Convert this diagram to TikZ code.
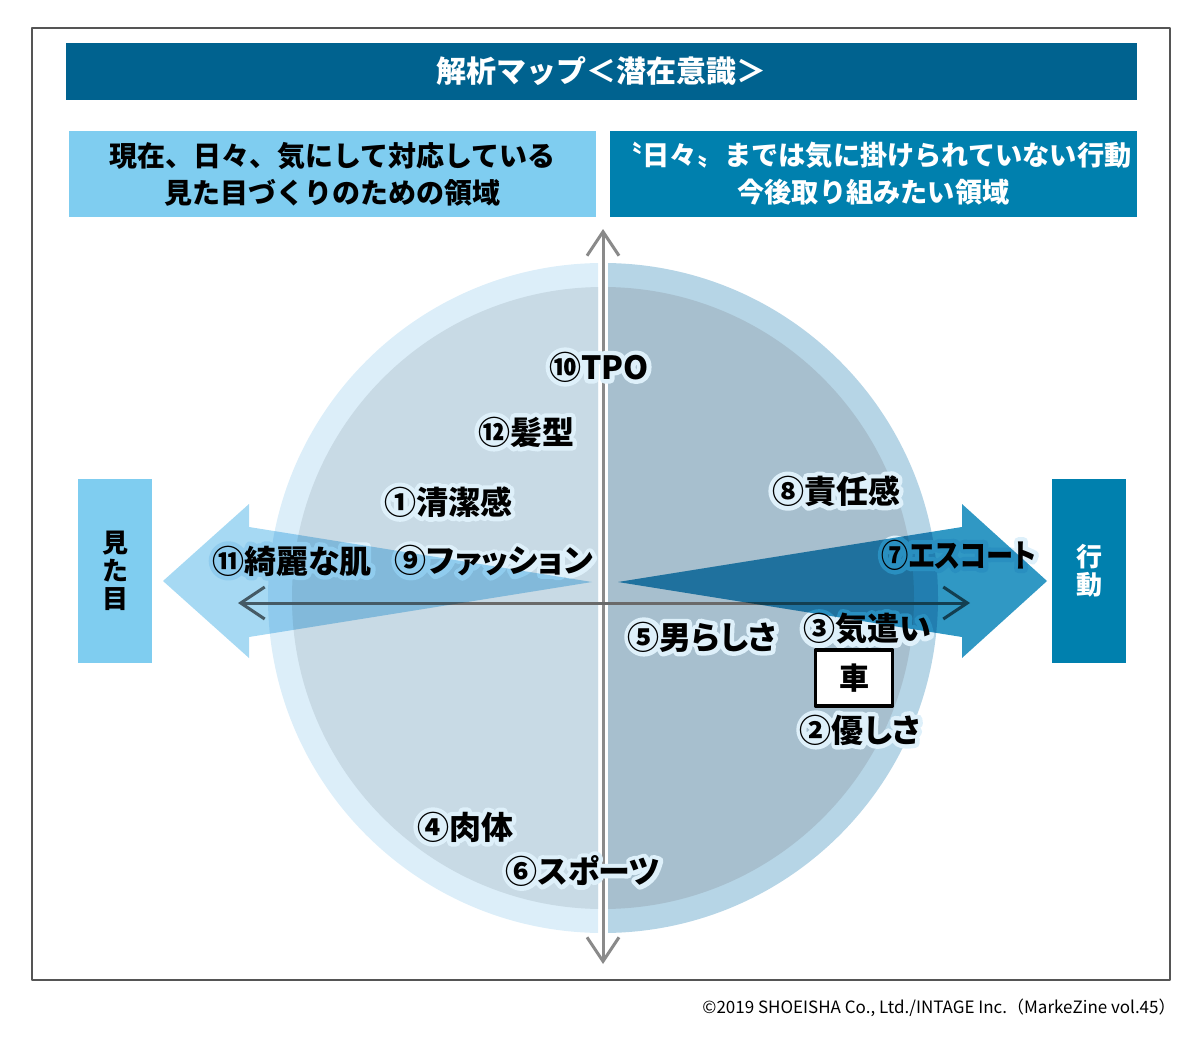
\documentclass[tikz,border=0pt]{standalone}
\usepackage{fontspec}
\setmainfont{Noto Sans CJK JP}
\newfontfamily\labelfont{Noto Sans CJK JP}[RawFeature=+palt]
\usepackage{tikz}
\usetikzlibrary{arrows.meta,positioning}
\definecolor{frame}{HTML}{555555}
\definecolor{titlebar}{HTML}{00628F}
\definecolor{lightbox}{HTML}{7FCDF0}
\definecolor{darkbox}{HTML}{0080AE}
\definecolor{ringleft}{HTML}{DCEEF9}
\definecolor{coreleft}{HTML}{C8DAE5}
\definecolor{ringright}{HTML}{B6D5E6}
\definecolor{coreright}{HTML}{A7BFCE}
\definecolor{arrowleft}{HTML}{A6D9F3}
\definecolor{arrowright}{HTML}{3098C4}
\definecolor{axisv}{HTML}{8A8A8A}
\definecolor{axish}{HTML}{6A6A6A}
\tikzset{
  MapItem/.style={font=\labelfont\bfseries\fontsize{16}{16}\selectfont, inner sep=0pt},
  NarrowItem/.style={font=\labelfont\bfseries\fontsize{16}{16}\selectfont
    \addfontfeature{FakeStretch=0.85}},
  BandBox/.style={inner sep=0pt, minimum width=263.5pt, minimum height=43pt,
    align=center, font=\bfseries\fontsize{14}{18.5}\selectfont},
  SideBox/.style={inner sep=0pt, minimum width=37pt, minimum height=92pt,
    align=center, font=\bfseries\fontsize{13}{14}\selectfont},
  AxisLine/.style={line width=1.5pt,
    {Straight Barb[length=12pt,width=16pt]}-{Straight Barb[length=12pt,width=16pt]}}
}
% stroked copy underneath gives the pale outline round each item
\newcommand{\HaloText}[1]{%
  \leavevmode\rlap{\special{pdf:literal direct 1 Tr 4.4 w 1 j 0.870 0.940 0.982 RG}#1%
  \special{pdf:literal direct 0 Tr}}#1}
\newcommand{\MapLabel}[4][]{%
  % #1 = extra node options, #2 = node name, #3 = centre, #4 = label text
  \node[MapItem,#1] (#2) at (#3) {\HaloText{#4}};
}

\begin{document}
\begin{tikzpicture}[x=0.5pt, y=-0.5pt, line join=round]
  \useasboundingbox (0,0) rectangle (1200,1038);
  \draw[frame, line width=0.6pt] (32,28) rectangle (1170,980);

  % headings
  \node[fill=titlebar, text=white, inner sep=0pt, minimum width=535.5pt,
    minimum height=28.5pt, font=\bfseries\fontsize{15}{15}\selectfont]
    (title) at (601.5,71.5) {解析マップ＜潜在意識＞};
  \node[BandBox, fill=lightbox, text=black] (nowarea) at (332.5,174)
    {現在、日々、気にして対応している\\見た目づくりのための領域};
  \node[BandBox, fill=darkbox, text=white, font=\bfseries\fontsize{13.6}{18.5}\selectfont]
    (futurearea) at (873.5,174)
    {〝日々〟までは気に掛けられていない行動\\今後取り組みたい領域};
  \node[SideBox, fill=lightbox, text=black] (looks) at (115,571) {見\\た\\目};
  \node[SideBox, fill=darkbox, text=white] (action) at (1089,571) {行\\動};

  % the two half discs
  \begin{scope}
    \clip (0,0) rectangle (598,1038);
    \fill[ringleft] (603,598) circle[radius=335];
    \fill[coreleft] (603,598) circle[radius=311];
  \end{scope}
  \begin{scope}
    \clip (608,0) rectangle (1200,1038);
    \fill[ringright] (603,598) circle[radius=335];
    \fill[coreright] (603,598) circle[radius=311];
  \end{scope}

  % axes
  \coordinate (axisTop) at (603,229);
  \coordinate (axisBottom) at (603,964);
  \coordinate (axisLeft) at (238,603);
  \coordinate (axisRight) at (970,603);
  \draw[axisv, AxisLine] (axisBottom) -- (axisTop);
  \draw[axish, AxisLine] (axisLeft) -- (axisRight);

  % items
  \MapLabel{tpo}{599,367}{⑩TPO}
  \MapLabel{hair}{526,432}{⑫髪型}
  \MapLabel{clean}{448,502}{①清潔感}
  \MapLabel{duty}{836,491}{⑧責任感}
  \MapLabel{skin}{292,561}{⑪綺麗な肌}
  \MapLabel{fashion}{494,561}{⑨ファッション}
  \MapLabel[NarrowItem]{escort}{959,555}{⑦エスコート}
  \MapLabel{manly}{702,637}{⑤男らしさ}
  \MapLabel{care}{867,629}{③気遣い}
  \MapLabel{kind}{860,730}{②優しさ}
  \MapLabel{body}{465,827}{④肉体}
  \MapLabel{sports}{583,871}{⑥スポーツ}
  \node[draw=black, line width=1.6pt, fill=white, inner sep=0pt,
    minimum width=38.5pt, minimum height=28pt,
    font=\bfseries\fontsize{15}{15}\selectfont] (car) at (854,678) {車};

  % broad arrows
  \fill[arrowleft, blend mode=multiply]
    (163,581) -- (249,504) -- (249,527) -- (592,582)
    -- (249,637) -- (249,658) -- cycle;
  \fill[arrowright, blend mode=multiply]
    (1047,581) -- (962,504) -- (962,527) -- (618,582)
    -- (962,637) -- (962,658) -- cycle;

  \node[anchor=east, inner sep=0pt, font=\fontsize{8.5}{10}\selectfont]
    (credit) at (1176,1008)
    {©2019 SHOEISHA Co., Ltd./INTAGE Inc.（MarkeZine vol.45）};
\end{tikzpicture}
\end{document}
